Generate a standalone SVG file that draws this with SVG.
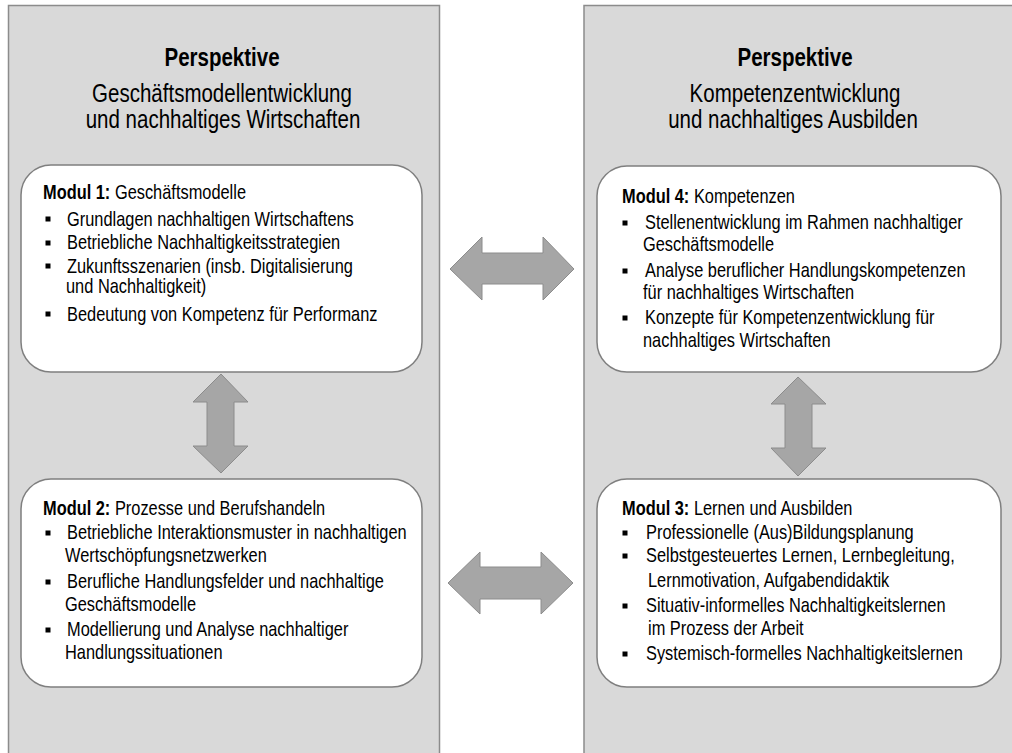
<svg xmlns="http://www.w3.org/2000/svg" xmlns:xlink="http://www.w3.org/1999/xlink" width="1012" height="753" viewBox="0 0 1012 753">
<style>
.panel{fill:#d9d9d9;stroke:#8c8c8c;stroke-width:1.5}
.box{fill:#ffffff;stroke:#7f7f7f;stroke-width:1.5}
.arrow{fill:#a6a6a6;stroke:#8c8c8c;stroke-width:1}
.title{font-family:"Liberation Sans",Arial,sans-serif;font-size:25px;fill:#000;text-anchor:middle}
.t{font-family:"Liberation Sans",Arial,sans-serif;font-size:20px;fill:#000}
.b{font-weight:bold}
.blt{fill:#000}
</style>
<defs>
<rect id="sq" class="blt" x="-2.5" y="-2.5" width="5" height="5"/>
</defs>
<g id="panel-left">
<rect class="panel" x="8.5" y="5.5" width="431" height="760"/>
<text class="title" transform="translate(222,66) scale(0.82,1)"><tspan class="b">Perspektive</tspan></text>
<text class="title" transform="translate(222,102) scale(0.82,1)">Geschäftsmodellentwicklung</text>
<text class="title" transform="translate(223,128) scale(0.82,1)">und nachhaltiges Wirtschaften</text>
</g>
<g id="panel-right">
<rect class="panel" x="584" y="5.5" width="440" height="760"/>
<text class="title" transform="translate(795,66) scale(0.82,1)"><tspan class="b">Perspektive</tspan></text>
<text class="title" transform="translate(795,102) scale(0.82,1)">Kompetenzentwicklung</text>
<text class="title" transform="translate(793,128) scale(0.82,1)">und nachhaltiges Ausbilden</text>
</g>
<g id="modul1">
<rect class="box" x="21" y="165" width="401" height="207" rx="30" ry="30"/>
<text class="t" transform="translate(43,199) scale(0.82,1)"><tspan class="b">Modul 1:</tspan> Geschäftsmodelle</text>
<use xlink:href="#sq" x="48" y="219"/>
<text class="t" transform="translate(67,225.5) scale(0.82,1)">Grundlagen nachhaltigen Wirtschaftens</text>
<use xlink:href="#sq" x="48" y="243"/>
<text class="t" transform="translate(67,249) scale(0.82,1)">Betriebliche Nachhaltigkeitsstrategien</text>
<use xlink:href="#sq" x="48" y="266"/>
<text class="t" transform="translate(67,272.5) scale(0.82,1)">Zukunftsszenarien (insb. Digitalisierung</text>
<text class="t" transform="translate(66,293) scale(0.82,1)">und Nachhaltigkeit)</text>
<use xlink:href="#sq" x="48" y="314"/>
<text class="t" transform="translate(67,320.5) scale(0.82,1)">Bedeutung von Kompetenz für Performanz</text>
</g>
<g id="modul2">
<rect class="box" x="21" y="479" width="401" height="208" rx="30" ry="30"/>
<text class="t" transform="translate(43,515) scale(0.82,1)"><tspan class="b">Modul 2:</tspan> Prozesse und Berufshandeln</text>
<use xlink:href="#sq" x="48" y="533"/>
<text class="t" transform="translate(67,539) scale(0.82,1)">Betriebliche Interaktionsmuster in nachhaltigen</text>
<text class="t" transform="translate(65,561.5) scale(0.82,1)">Wertschöpfungsnetzwerken</text>
<use xlink:href="#sq" x="48" y="582"/>
<text class="t" transform="translate(67,588) scale(0.82,1)">Berufliche Handlungsfelder und nachhaltige</text>
<text class="t" transform="translate(65,610.5) scale(0.82,1)">Geschäftsmodelle</text>
<use xlink:href="#sq" x="48" y="630"/>
<text class="t" transform="translate(67,635.5) scale(0.82,1)">Modellierung und Analyse nachhaltiger</text>
<text class="t" transform="translate(65,659) scale(0.82,1)">Handlungssituationen</text>
</g>
<g id="modul4">
<rect class="box" x="597" y="166" width="404" height="206" rx="30" ry="30"/>
<text class="t" transform="translate(622,203) scale(0.82,1)"><tspan class="b">Modul 4:</tspan> Kompetenzen</text>
<use xlink:href="#sq" x="625" y="223"/>
<text class="t" transform="translate(645,229) scale(0.82,1)">Stellenentwicklung im Rahmen nachhaltiger</text>
<text class="t" transform="translate(643,250.5) scale(0.82,1)">Geschäftsmodelle</text>
<use xlink:href="#sq" x="625" y="271"/>
<text class="t" transform="translate(645,277) scale(0.82,1)">Analyse beruflicher Handlungskompetenzen</text>
<text class="t" transform="translate(643,298.5) scale(0.82,1)">für nachhaltiges Wirtschaften</text>
<use xlink:href="#sq" x="625" y="318"/>
<text class="t" transform="translate(645,324) scale(0.82,1)">Konzepte für Kompetenzentwicklung für</text>
<text class="t" transform="translate(643,346.5) scale(0.82,1)">nachhaltiges Wirtschaften</text>
</g>
<g id="modul3">
<rect class="box" x="597" y="479" width="404" height="208" rx="30" ry="30"/>
<text class="t" transform="translate(622,515) scale(0.82,1)"><tspan class="b">Modul 3:</tspan> Lernen und Ausbilden</text>
<use xlink:href="#sq" x="625" y="533"/>
<text class="t" transform="translate(646,539) scale(0.82,1)">Professionelle (Aus)Bildungsplanung</text>
<use xlink:href="#sq" x="625" y="556"/>
<text class="t" transform="translate(646,562) scale(0.82,1)">Selbstgesteuertes Lernen, Lernbegleitung,</text>
<text class="t" transform="translate(648,586.5) scale(0.82,1)">Lernmotivation, Aufgabendidaktik</text>
<use xlink:href="#sq" x="625" y="606"/>
<text class="t" transform="translate(646,611.5) scale(0.82,1)">Situativ-informelles Nachhaltigkeitslernen</text>
<text class="t" transform="translate(648,635) scale(0.82,1)">im Prozess der Arbeit</text>
<use xlink:href="#sq" x="625" y="654"/>
<text class="t" transform="translate(646,660) scale(0.82,1)">Systemisch-formelles Nachhaltigkeitslernen</text>
</g>
<g id="connectors">
<polygon class="arrow" points="450,269 482,237 482,253 543,253 543,237 574,269 543,300 543,284 482,284 482,300"/>
<polygon class="arrow" points="448,583 480,552 480,567 541,567 541,552 573,583 541,614 541,599 480,599 480,614"/>
<polygon class="arrow" points="221,374 248,402 234,402 234,446 248,446 221,473 193,446 207,446 207,402 193,402"/>
<polygon class="arrow" points="798,377 826,404 812,404 812,448 826,448 798,476 771,448 785,448 785,404 771,404"/>
</g>
</svg>
